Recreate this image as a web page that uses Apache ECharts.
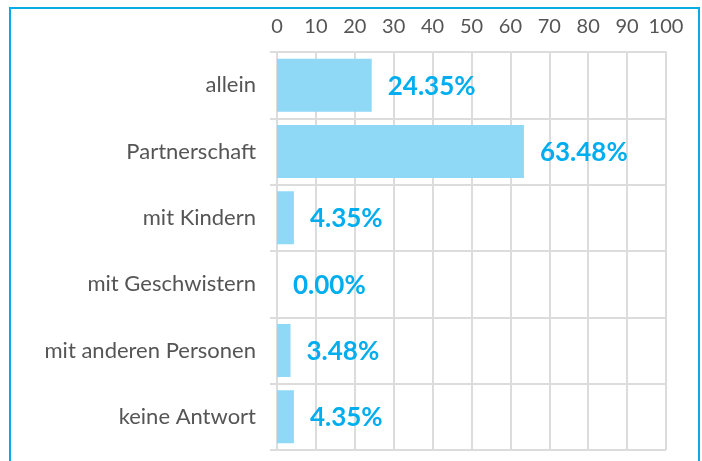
<!DOCTYPE html>
<html>
<head>
<meta charset="utf-8">
<script src="https://cdn.jsdelivr.net/npm/echarts@6/dist/echarts.min.js"></script>
<style>
  html, body { margin: 0; padding: 0; background: #fff; }
  #chart { width: 702px; height: 461px; }
</style>
</head>
<body>
<div id="chart"></div>
<script>
// Wohnsituation - Anteile in Prozent
const categories = ['allein', 'Partnerschaft', 'mit Kindern', 'mit Geschwistern', 'mit anderen Personen', 'keine Antwort'];
const values = [24.35, 63.48, 4.35, 0.00, 3.48, 4.35];
const axisTicks = [0, 10, 20, 30, 40, 50, 60, 70, 80, 90, 100];

const myChart = echarts.init(document.getElementById('chart'));

const gridColor = '#dcdcdc';

const option = {
  animation: false,
  textStyle: { fontFamily: 'Lato, "Open Sans", sans-serif' },
  graphic: [
    {
      type: 'rect',
      shape: { x: 10, y: 8, width: 689, height: 480 },
      style: { fill: 'none', stroke: '#0aaae6', lineWidth: 2 },
      silent: true,
    },
  ],
  grid: { left: 277, right: 36, top: 52, bottom: 11 },
  xAxis: {
    type: 'value',
    position: 'top',
    min: axisTicks[0],
    max: axisTicks[axisTicks.length - 1],
    interval: 10,
    axisLine: { show: true, lineStyle: { color: gridColor, width: 2 } },
    axisTick: { show: false },
    axisLabel: {
      color: '#555',
      fontSize: 20,
      margin: 15,
    },
    splitLine: { show: true, lineStyle: { color: gridColor, width: 2 } },
  },
  yAxis: {
    type: 'category',
    inverse: true,
    data: categories,
    axisLine: { show: true, lineStyle: { color: gridColor, width: 2 } },
    axisTick: { show: true, length: 7, lineStyle: { color: gridColor, width: 2 } },
    axisLabel: { color: '#555', fontSize: 22, margin: 21 },
    splitLine: { show: true, lineStyle: { color: gridColor, width: 2 } },
  },
  series: [
    {
      type: 'bar',
      data: values,
      barWidth: '80%',
      itemStyle: { color: '#8fd9f7' },
      label: {
        show: true,
        position: 'right',
        distance: 16,
        offset: [0, 1],
        color: '#00aeef',
        fontSize: 26,
        fontWeight: 'bold',
        formatter: (p) => p.value.toFixed(2) + '%',
      },
    },
  ],
};

myChart.setOption(option);
window.addEventListener('resize', () => {
  myChart.resize();
});
</script>
</body>
</html>
